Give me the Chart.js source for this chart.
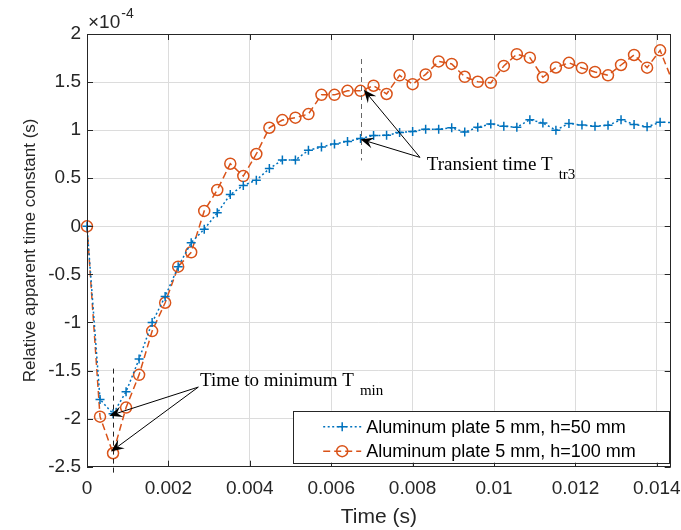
<!DOCTYPE html>
<html>
<head>
<meta charset="utf-8">
<script src="https://cdn.jsdelivr.net/npm/chart.js@4.4.1/dist/chart.umd.min.js"></script>
<style>
  html, body { margin: 0; padding: 0; background: #fff; }
  canvas { display: block; }
</style>
</head>
<body>
<canvas id="chart" width="681" height="530"></canvas>
<script>
// sample times (s)
var times = [0, 0.00032, 0.00064, 0.00096, 0.00128, 0.0016, 0.00192, 0.00224, 0.00256, 0.00288,
             0.0032, 0.00352, 0.00384, 0.00416, 0.00448, 0.0048, 0.00512, 0.00544, 0.00576, 0.00608,
             0.0064, 0.00672, 0.00704, 0.00736, 0.00768, 0.008, 0.00832, 0.00864, 0.00896, 0.00928,
             0.0096, 0.00992, 0.01024, 0.01056, 0.01088, 0.0112, 0.01152, 0.01184, 0.01216, 0.01248,
             0.0128, 0.01312, 0.01344, 0.01376, 0.01408, 0.0144];

// relative apparent time constant, x1e-4 s
var plate50 = [0, -1.80, -1.95, -1.72, -1.38, -1.00, -0.73, -0.42, -0.17, -0.03,
               0.14, 0.33, 0.425, 0.48, 0.60, 0.69, 0.69, 0.79, 0.825, 0.856,
               0.883, 0.913, 0.945, 0.946, 0.975, 0.987, 1.01, 1.01, 1.025, 0.98,
               1.03, 1.065, 1.04, 1.03, 1.108, 1.075, 1.0, 1.07, 1.053, 1.04,
               1.05, 1.108, 1.06, 1.035, 1.082, 1.08];
var plate100 = [0, -1.98, -2.36, -1.885, -1.545, -1.09, -0.795, -0.42, -0.27, 0.16,
                0.378, 0.651, 0.523, 0.752, 1.025, 1.105, 1.13, 1.167, 1.367, 1.367,
                1.409, 1.409, 1.462, 1.376, 1.57, 1.478, 1.58, 1.715, 1.689, 1.555,
                1.503, 1.492, 1.668, 1.79, 1.754, 1.55, 1.652, 1.70, 1.647, 1.605,
                1.57, 1.678, 1.782, 1.65, 1.83, 1.49];

var seriesLabels = ['Aluminum plate 5 mm, h=50 mm', 'Aluminum plate 5 mm, h=100 mm'];

var xTicks = [0, 0.002, 0.004, 0.006, 0.008, 0.01, 0.012, 0.014];
var xTickLabels = ['0', '0.002', '0.004', '0.006', '0.008', '0.01', '0.012', '0.014'];
var yTicks = [-2.5, -2, -1.5, -1, -0.5, 0, 0.5, 1, 1.5, 2];
var yTickLabels = ['-2.5', '-2', '-1.5', '-1', '-0.5', '0', '0.5', '1', '1.5', '2'];
var xMax = 0.01434;
var yExponent = '-4';

// annotations, in axis units
var minGuide = { x: 0.00064, from: -1.48, to: -2.575, color: '#222' };
var trGuide = { x: 0.00672, from: 1.74, to: 0.685, color: '#666' };
var minNote = { text: 'Time to minimum T', sub: 'min', x: 0.002776, y: -1.657,
                tail: [0.002735, -1.672], tips: [[0.000548, -1.97], [0.00059, -2.343]] };
var trNote = { text: 'Transient time T', sub: 'tr3', x: 0.008346, y: 0.589,
               tail: [0.00818, 0.717], tips: [[0.0068, 1.42], [0.00672, 0.905]] };

var BLUE = '#0072BD', ORANGE = '#D95319', AXIS = '#262626';
var SANS = '"Liberation Sans", Arial, sans-serif';
var SERIF = '"Liberation Serif", "Times New Roman", serif';

function toPoints(ys) {
  return ys.map(function (y, i) { return { x: times[i], y: y }; });
}

function hideOutside(r) {
  return function (ctx) { return ctx.raw && ctx.raw.x > xMax ? 0 : r; };
}

function arrow(ctx, x0, y0, x1, y1) {
  var dx = x1 - x0, dy = y1 - y0, len = Math.hypot(dx, dy);
  var ux = dx / len, uy = dy / len, nx = -uy, ny = ux;
  var L = 13, W = 5.5, notch = 8;
  ctx.beginPath();
  ctx.moveTo(x0, y0);
  ctx.lineTo(x1 - ux * notch, y1 - uy * notch);
  ctx.stroke();
  ctx.beginPath();
  ctx.moveTo(x1, y1);
  ctx.lineTo(x1 - ux * L + nx * W, y1 - uy * L + ny * W);
  ctx.lineTo(x1 - ux * notch, y1 - uy * notch);
  ctx.lineTo(x1 - ux * L - nx * W, y1 - uy * L - ny * W);
  ctx.closePath();
  ctx.fill();
}

function drawNote(ctx, xs, ys, note) {
  var tx = xs.getPixelForValue(note.x), ty = ys.getPixelForValue(note.y);
  ctx.fillStyle = '#000';
  ctx.textAlign = 'left';
  ctx.textBaseline = 'alphabetic';
  ctx.font = '19px ' + SERIF;
  ctx.fillText(note.text, tx, ty);
  var w = ctx.measureText(note.text).width;
  ctx.font = '15px ' + SERIF;
  ctx.fillText(note.sub, tx + w + 6, ty + 9);
  ctx.strokeStyle = '#000';
  ctx.lineWidth = 1;
  var ax = xs.getPixelForValue(note.tail[0]), ay = ys.getPixelForValue(note.tail[1]);
  note.tips.forEach(function (t) {
    arrow(ctx, ax, ay, xs.getPixelForValue(t[0]), ys.getPixelForValue(t[1]));
  });
}

function drawGuide(ctx, xs, ys, g) {
  var px = Math.round(xs.getPixelForValue(g.x)) + 0.5;
  ctx.save();
  ctx.strokeStyle = g.color;
  ctx.lineWidth = 1;
  ctx.setLineDash([5, 4]);
  ctx.beginPath();
  ctx.moveTo(px, ys.getPixelForValue(g.from));
  ctx.lineTo(px, ys.getPixelForValue(g.to));
  ctx.stroke();
  ctx.restore();
}

// box, inward ticks, annotations, legend and exponent label
var matlabLook = {
  id: 'matlabLook',
  afterDraw: function (chart) {
    var ctx = chart.ctx, a = chart.chartArea;
    var xs = chart.scales.x, ys = chart.scales.y;
    ctx.save();

    ctx.strokeStyle = AXIS;
    ctx.lineWidth = 1;
    ctx.strokeRect(Math.round(a.left) + 0.5, Math.round(a.top) + 0.5,
                   Math.round(a.right - a.left) - 1, Math.round(a.bottom - a.top) - 1);
    ctx.beginPath();
    xTicks.forEach(function (v) {
      var px = Math.round(xs.getPixelForValue(v)) + 0.5;
      ctx.moveTo(px, a.bottom); ctx.lineTo(px, a.bottom - 6);
      ctx.moveTo(px, a.top); ctx.lineTo(px, a.top + 6);
    });
    yTicks.forEach(function (v) {
      var py = Math.round(ys.getPixelForValue(v)) + 0.5;
      ctx.moveTo(a.left, py); ctx.lineTo(a.left + 6, py);
      ctx.moveTo(a.right, py); ctx.lineTo(a.right - 6, py);
    });
    ctx.stroke();

    drawGuide(ctx, xs, ys, minGuide);
    drawGuide(ctx, xs, ys, trGuide);
    drawNote(ctx, xs, ys, minNote);
    drawNote(ctx, xs, ys, trNote);

    // exponent of the y axis
    ctx.fillStyle = AXIS;
    ctx.textAlign = 'left';
    ctx.textBaseline = 'alphabetic';
    ctx.font = '19px ' + SANS;
    ctx.fillText('\u00d710', a.left + 1, a.top - 6);
    var ew = ctx.measureText('\u00d710').width;
    ctx.font = '14px ' + SANS;
    ctx.fillText(yExponent, a.left + 2 + ew, a.top - 16);

    // legend
    var right = a.right - 1.5, bottom = a.bottom - 4;
    var left = right - 376, top = bottom - 52;
    ctx.fillStyle = '#fff';
    ctx.fillRect(left, top, right - left, bottom - top);
    ctx.strokeStyle = AXIS;
    ctx.lineWidth = 1;
    ctx.strokeRect(Math.round(left) + 0.5, Math.round(top) + 0.5, Math.round(right - left), Math.round(bottom - top));
    chart.data.datasets.forEach(function (ds, i) {
      var cy = top + 16 + i * 24.5;
      ctx.strokeStyle = ds.borderColor;
      ctx.lineWidth = ds.borderWidth;
      ctx.setLineDash(ds.borderDash);
      ctx.beginPath();
      ctx.moveTo(left + 30, cy); ctx.lineTo(left + 68, cy);
      ctx.stroke();
      ctx.setLineDash([]);
      ctx.lineWidth = 1.5;
      ctx.beginPath();
      var mx = left + 49;
      if (ds.pointStyle === 'cross') {
        ctx.moveTo(mx - 4.5, cy); ctx.lineTo(mx + 4.5, cy);
        ctx.moveTo(mx, cy - 4.5); ctx.lineTo(mx, cy + 4.5);
      } else {
        ctx.arc(mx, cy, 5.5, 0, Math.PI * 2);
      }
      ctx.stroke();
      ctx.fillStyle = '#000';
      ctx.font = '18px ' + SANS;
      ctx.textBaseline = 'middle';
      ctx.fillText(ds.label, left + 73, cy + 1);
    });
    ctx.restore();
  }
};

Chart.defaults.font.family = SANS;
Chart.defaults.color = AXIS;

new Chart(document.getElementById('chart'), {
  type: 'line',
  data: {
    datasets: [{
      label: seriesLabels[0],
      data: toPoints(plate50),
      borderColor: BLUE,
      borderWidth: 1.5,
      borderDash: [2, 2.5],
      pointStyle: 'cross',
      pointRadius: hideOutside(4.5),
      pointBorderColor: BLUE,
      pointBorderWidth: 1.5,
      pointBackgroundColor: 'transparent',
      tension: 0,
      clip: { left: 12, top: 0, right: 0, bottom: 12 }
    }, {
      label: seriesLabels[1],
      data: toPoints(plate100),
      borderColor: ORANGE,
      borderWidth: 1.5,
      borderDash: [7, 4],
      pointStyle: 'circle',
      pointRadius: hideOutside(5.5),
      pointBorderColor: ORANGE,
      pointBorderWidth: 1.5,
      pointBackgroundColor: 'transparent',
      tension: 0,
      clip: { left: 12, top: 0, right: 0, bottom: 12 }
    }]
  },
  options: {
    responsive: false,
    animation: false,
    devicePixelRatio: 1,
    events: [],
    layout: { padding: { left: 0, right: 10.3, top: 34, bottom: 0 } },
    plugins: { legend: { display: false }, tooltip: { enabled: false } },
    scales: {
      x: {
        type: 'linear',
        min: 0,
        max: xMax,
        afterBuildTicks: function (scale) {
          scale.ticks = xTicks.map(function (v) { return { value: v }; });
        },
        afterFit: function (scale) {
          scale.height = 63.3;
          scale.paddingLeft = 0;
          scale.paddingRight = 0;
        },
        ticks: {
          padding: 11,
          maxRotation: 0,
          font: { size: 19 },
          color: AXIS,
          callback: function (v, i) { return xTickLabels[i]; }
        },
        grid: { color: '#dcdcdc', lineWidth: 1, drawTicks: false },
        border: { display: false },
        title: { display: true, text: 'Time (s)', font: { size: 21 }, color: AXIS, padding: { top: 0, bottom: 0.5 } }
      },
      y: {
        type: 'linear',
        min: -2.5,
        max: 2,
        afterBuildTicks: function (scale) {
          scale.ticks = yTicks.map(function (v) { return { value: v }; });
        },
        afterFit: function (scale) {
          scale.width = 87;
          scale.paddingTop = 0;
          scale.paddingBottom = 0;
        },
        ticks: {
          padding: 6,
          font: { size: 19 },
          color: AXIS,
          callback: function (v, i) { return yTickLabels[i]; }
        },
        grid: { color: '#dcdcdc', lineWidth: 1, drawTicks: false },
        border: { display: false },
        title: { display: true, text: 'Relative apparent time constant (s)', font: { size: 17 }, color: AXIS, padding: { top: 20, bottom: 0 } }
      }
    }
  },
  plugins: [matlabLook]
});
</script>
</body>
</html>
